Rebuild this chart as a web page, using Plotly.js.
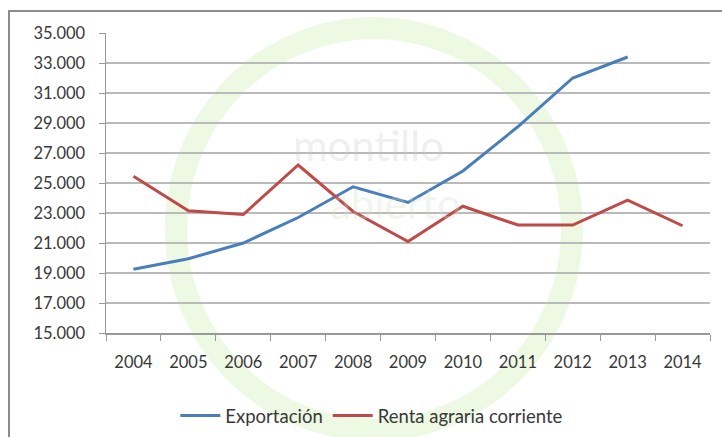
<!DOCTYPE html>
<html>
<head>
<meta charset="utf-8">
<script src="https://cdn.plot.ly/plotly-3.0.1.min.js"></script>
<style>html,body{margin:0;padding:0;background:#fff;}#chart{width:722px;height:437px;}</style>
</head>
<body>
<div id="chart"></div>
<script>
const years = ['2004','2005','2006','2007','2008','2009','2010','2011','2012','2013','2014'];
const exportacion = [19250, 19950, 21000, 22700, 24750, 23700, 25800, 28750, 32000, 33400, null];
const renta = [25450, 23150, 22900, 26200, 23100, 21100, 23450, 22200, 22200, 23850, 22150];
const yTicks = [15000, 17000, 19000, 21000, 23000, 25000, 27000, 29000, 31000, 33000, 35000];

const font = 'Lato, "Open Sans", sans-serif';
const traces = [
  {x: years, y: exportacion, name: 'Exportación', type: 'scatter', mode: 'lines',
   line: {color: '#4a7ebb', width: 3}, connectgaps: false},
  {x: years, y: renta, name: 'Renta agraria corriente', type: 'scatter', mode: 'lines',
   line: {color: '#be4b48', width: 3}}
];

const layout = {
  width: 722, height: 437,
  margin: {l: 106, r: 12, t: 33, b: 104},
  paper_bgcolor: '#ffffff', plot_bgcolor: 'rgba(0,0,0,0)',
  separators: ',.',
  font: {family: font, size: 16.5, color: '#383838'},
  showlegend: true,
  legend: {orientation: 'h', xref: 'container', yref: 'container', x: 0.515, y: 0.048,
           xanchor: 'center', yanchor: 'middle', itemwidth: 40,
           font: {family: font, size: 18.5, color: '#383838'}, bgcolor: 'rgba(0,0,0,0)'},
  xaxis: {type: 'category', range: [-0.5, 10.5], tickson: 'boundaries', ticks: 'outside', ticklen: 6,
          tickcolor: '#999', showline: true, linecolor: '#999', linewidth: 1.5,
          showgrid: false, ticklabelstandoff: 14, fixedrange: true, automargin: false},
  yaxis: {range: [15000, 35000], tickvals: yTicks, tickformat: ',d', ticks: 'outside',
          ticklen: 6, tickcolor: '#999', showline: true, linecolor: '#999', linewidth: 1.5,
          showgrid: true, gridcolor: '#bababa', gridwidth: 1.5, zeroline: false,
          ticklabelstandoff: 10, fixedrange: true, automargin: false},
  shapes: [
    {type: 'rect', xref: 'paper', yref: 'paper', x0: -0.1606, x1: 1.1, y0: -0.5, y1: 1.0733,
     line: {color: '#8c8c8c', width: 2}, fillcolor: 'rgba(0,0,0,0)', layer: 'above'},
    {type: 'circle', xref: 'paper', yref: 'paper', x0: (176-106)/604, x1: (572-106)/604,
     y0: (333-430)/300, y1: (333-28)/300, line: {color: 'rgba(210,240,185,0.4)', width: 22},
     layer: 'below'}
  ],
  annotations: [
    {text: 'montillo', xref: 'paper', yref: 'paper', x: (368-106)/604, y: (333-145)/300,
     showarrow: false, font: {family: font, size: 42, color: 'rgba(200,200,200,0.3)'}},
    {text: 'abierto', xref: 'paper', yref: 'paper', x: (395-106)/604, y: (333-203)/300,
     showarrow: false, font: {family: font, size: 42, color: 'rgba(205,225,195,0.3)'}}
  ]
};

Plotly.newPlot('chart', traces, layout, {displayModeBar: false, staticPlot: true});
</script>
</body>
</html>
